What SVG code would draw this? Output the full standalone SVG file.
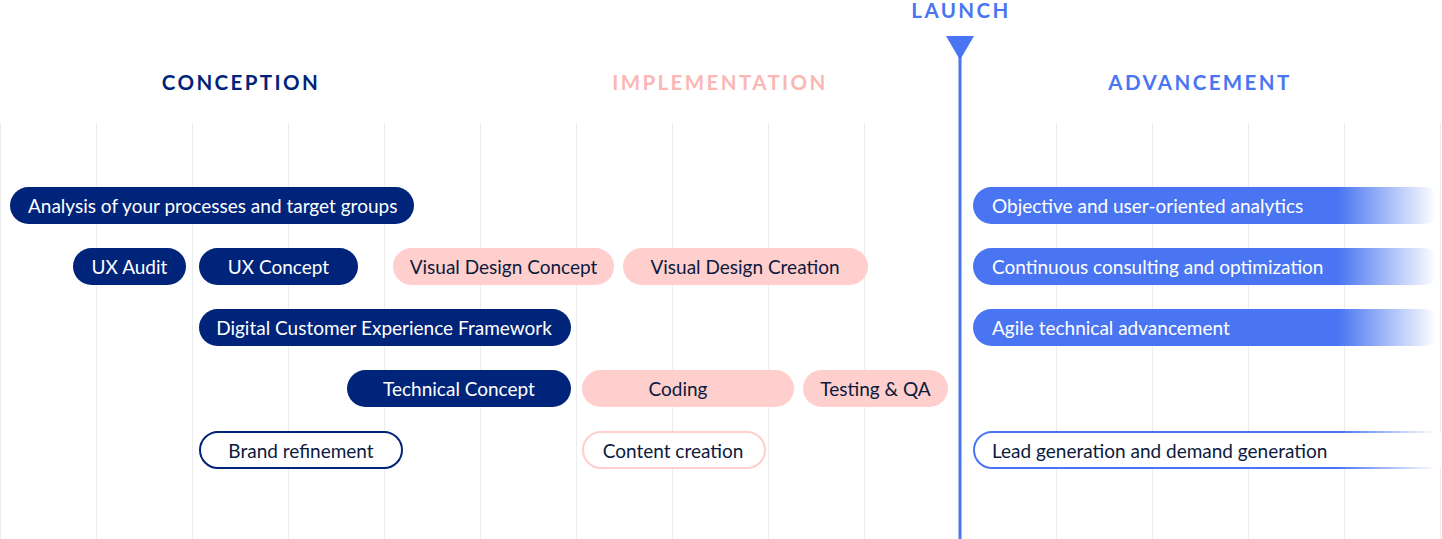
<svg xmlns="http://www.w3.org/2000/svg" width="1442" height="539" viewBox="0 0 1442 539">
<style>
.grid line{stroke:#ececec;stroke-width:1}
.hdr{font-family:Lato,"Noto Sans",sans-serif;font-weight:700;font-size:20.5px;letter-spacing:2.4px;text-anchor:middle}
.t{font-family:Lato,"Noto Sans",sans-serif;font-size:19px;dominant-baseline:central}
.c{text-anchor:middle}
.navy{fill:#00247a}
.pink{fill:#ffcfcd}
.wt{fill:#ffffff}
.dk{fill:#0b1a3d}
</style>
<defs>
<linearGradient id="fadeFill" gradientUnits="userSpaceOnUse" x1="1338" y1="0" x2="1436" y2="0">
<stop offset="0" stop-color="#4a75f2" stop-opacity="1"/>
<stop offset="1" stop-color="#4a75f2" stop-opacity="0"/>
</linearGradient>
<linearGradient id="fadeStroke" gradientUnits="userSpaceOnUse" x1="1338" y1="0" x2="1436" y2="0">
<stop offset="0" stop-color="#4a75f2" stop-opacity="1"/>
<stop offset="1" stop-color="#4a75f2" stop-opacity="0"/>
</linearGradient>
</defs>
<rect width="1442" height="539" fill="#ffffff"/>
<g class="grid">
<line x1="0.5" y1="123" x2="0.5" y2="539"/>
<line x1="96.5" y1="123" x2="96.5" y2="539"/>
<line x1="192.5" y1="123" x2="192.5" y2="539"/>
<line x1="288.5" y1="123" x2="288.5" y2="539"/>
<line x1="384.5" y1="123" x2="384.5" y2="539"/>
<line x1="480.5" y1="123" x2="480.5" y2="539"/>
<line x1="576.5" y1="123" x2="576.5" y2="539"/>
<line x1="672.5" y1="123" x2="672.5" y2="539"/>
<line x1="768.5" y1="123" x2="768.5" y2="539"/>
<line x1="864.5" y1="123" x2="864.5" y2="539"/>
<line x1="1056.5" y1="123" x2="1056.5" y2="539"/>
<line x1="1152.5" y1="123" x2="1152.5" y2="539"/>
<line x1="1248.5" y1="123" x2="1248.5" y2="539"/>
<line x1="1344.5" y1="123" x2="1344.5" y2="539"/>
<line x1="1440.5" y1="123" x2="1440.5" y2="539"/>
</g>
<g id="headers">
<text class="hdr" x="241" y="90" fill="#00247a">CONCEPTION</text>
<text class="hdr" x="720" y="90" fill="#fbb7b4">IMPLEMENTATION</text>
<text class="hdr" x="1200" y="90" fill="#4a75f2">ADVANCEMENT</text>
</g>
<g id="launch">
<text class="hdr" x="961" y="18" fill="#4a75f2">LAUNCH</text>
<polygon points="946,36 974,36 960,60" fill="#4a75f2"/>
<rect x="958.5" y="52" width="3" height="487" fill="#4a75f2"/>
</g>
<g id="n-analysis"><rect x="10" y="187" width="404" height="37" rx="18.5" class="navy"/><text class="t wt" x="28" y="205.5">Analysis of your processes and target groups</text></g>
<g id="n-uxaudit"><rect x="73" y="248" width="113" height="37" rx="18.5" class="navy"/><text class="t wt c" x="129.5" y="266.5">UX Audit</text></g>
<g id="n-uxconcept"><rect x="199" y="248" width="159" height="37" rx="18.5" class="navy"/><text class="t wt c" x="278.5" y="266.5">UX Concept</text></g>
<g id="n-vdconcept"><rect x="393" y="248" width="221" height="37" rx="18.5" class="pink"/><text class="t dk c" x="503.5" y="266.5">Visual Design Concept</text></g>
<g id="n-vdcreation"><rect x="623" y="248" width="245" height="37" rx="18.5" class="pink"/><text class="t dk c" x="745" y="266.5">Visual Design Creation</text></g>
<g id="n-dcx"><rect x="199" y="309" width="372" height="37" rx="18.5" class="navy"/><text class="t wt c" x="384" y="327.5">Digital Customer Experience Framework</text></g>
<g id="n-tech"><rect x="347" y="370" width="224" height="37" rx="18.5" class="navy"/><text class="t wt c" x="459" y="388.5">Technical Concept</text></g>
<g id="n-coding"><rect x="582" y="370" width="212" height="37" rx="18.5" class="pink"/><text class="t dk c" x="678" y="388.5">Coding</text></g>
<g id="n-testing"><rect x="803" y="370" width="145" height="37" rx="18.5" class="pink"/><text class="t dk c" x="875.5" y="388.5">Testing &amp; QA</text></g>
<g id="n-brand"><rect x="200" y="432" width="202" height="36" rx="18" fill="#ffffff" stroke="#00247a" stroke-width="2"/><text class="t dk c" x="301" y="450">Brand refinement</text></g>
<g id="n-content"><rect x="583" y="432" width="182" height="36" rx="18" fill="#ffffff" stroke="#ffcfcd" stroke-width="2"/><text class="t dk c" x="673" y="450">Content creation</text></g>
<g id="n-analytics"><rect x="973" y="187" width="469" height="37" rx="18.5" fill="url(#fadeFill)"/><text class="t wt" x="992" y="205.5">Objective and user-oriented analytics</text></g>
<g id="n-consult"><rect x="973" y="248" width="469" height="37" rx="18.5" fill="url(#fadeFill)"/><text class="t wt" x="992" y="266.5">Continuous consulting and optimization</text></g>
<g id="n-agile"><rect x="973" y="309" width="469" height="37" rx="18.5" fill="url(#fadeFill)"/><text class="t wt" x="992" y="327.5">Agile technical advancement</text></g>
<g id="n-lead"><rect x="974" y="432" width="480" height="36" rx="18" fill="#ffffff" stroke="url(#fadeStroke)" stroke-width="2"/><text class="t dk" x="992" y="450">Lead generation and demand generation</text></g>
<g id="connectors"></g>
</svg>
